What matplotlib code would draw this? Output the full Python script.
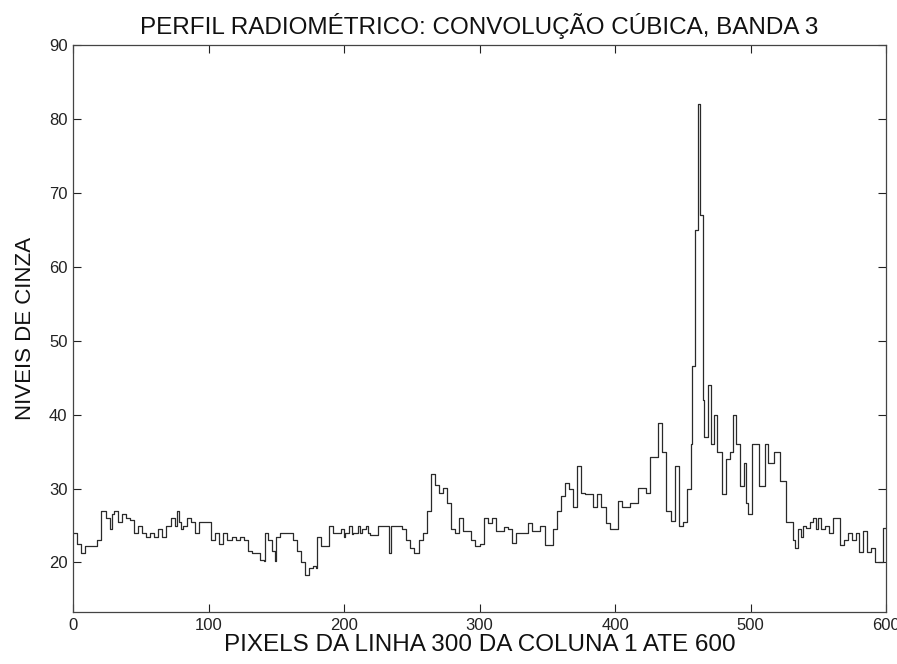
import matplotlib
matplotlib.use("Agg")
import matplotlib.pyplot as plt

# start pixel of each step and its grey level
pixel = [0, 3, 6, 9, 18, 21, 24, 27, 29, 30, 33, 36, 39, 42,
         45, 48, 51, 54, 57, 60, 63, 66, 69, 72, 75, 77, 78, 80, 81, 84, 87, 90,
         93, 96, 99, 102, 105, 108, 111, 114, 117, 120, 123, 126,
         129, 132, 135, 138, 141, 142, 144, 147, 149, 150, 153, 156, 159, 162, 165,
         168, 171, 174, 177, 179, 180, 183, 186, 189, 192, 195, 198, 200, 201, 204,
         206, 207, 210, 212, 213, 216, 218, 219, 222, 225, 228, 231, 233, 234, 235,
         237, 240, 243, 246, 249, 252, 255, 258, 261, 264, 267, 270, 273, 276, 279,
         282, 285, 288, 291, 294, 297, 300, 303, 306, 309, 312, 315, 318, 321, 324,
         327, 330, 333, 336, 339, 342, 345, 348, 351, 354, 357, 360, 363, 366, 369,
         372, 375, 378, 381, 384, 387, 390, 393, 396, 399, 402, 405, 408, 411, 414,
         417, 420, 423, 426, 429, 432, 435, 438, 441, 444, 447, 450, 453, 456, 457,
         459, 461, 463, 465, 466, 469, 471, 473, 475, 479, 482, 485, 487, 489, 492,
         495, 497, 498, 501, 506, 511, 513, 517, 522, 526, 531, 533, 535, 537, 539,
         541, 544, 546, 548, 550, 552, 555, 558, 561, 564, 566, 569, 572, 575, 578,
         580, 583, 586, 589, 592, 597, 598, 600]
level = [24, 22.5, 21.3, 22.2, 23, 27, 26, 24.5, 26.5, 27, 25.5, 26.5, 26, 25.8,
         24, 25, 24, 23.5, 24, 23.5, 24.5, 23.5, 25, 26, 25, 27, 25.5, 24.5, 25, 26, 25.5, 24,
         25.5, 25.5, 25.5, 23, 24, 22.5, 24, 23, 23.5, 23, 23.5, 23,
         21.5, 21.3, 21.3, 20.3, 20.2, 24, 23, 21.5, 20.2, 23.5, 24, 24, 24, 23, 21.5,
         20, 18.3, 19.3, 19.5, 19.3, 23.5, 22.2, 22.2, 25, 24, 24, 24.5, 23.5, 24, 25,
         23.8, 24, 25, 24, 24.5, 25, 24, 23.7, 23.7, 25, 25, 25, 21.3, 21.3, 25,
         25, 25, 24.5, 23, 22, 21.3, 23, 24, 27, 32, 30.5, 29.4, 30.1, 28, 24.5,
         24, 26, 24.2, 24.2, 23, 22.2, 22.5, 26, 25.4, 26, 24.2, 24.2, 24.8, 24.5, 22.7,
         24, 24, 24, 25.4, 24.2, 24.2, 25, 22.4, 22.4, 24.5, 27, 29, 30.8, 30, 27.5,
         33, 29.4, 29.2, 29.2, 27.5, 29.2, 27.5, 25.4, 24.5, 24.5, 28.3, 27.5, 27.5, 28, 28,
         30.1, 30.1, 29.4, 34.2, 34.2, 38.9, 35, 27, 25.6, 33, 25, 25.5, 30, 36, 46.6,
         65, 82, 67, 42, 37, 44, 36, 40, 35, 29.3, 34, 35, 40, 36, 30.3,
         33.5, 28, 26.5, 36, 30.3, 36, 33.5, 35, 31, 25.5, 23, 21.9, 24.5, 23.5, 25,
         24.7, 25.5, 26, 24.5, 26, 24.5, 25, 24, 26, 26, 22.3, 23, 24, 23, 24,
         21.4, 24.2, 21.4, 22, 20, 20, 24.7, 24.7]

x_ticks = [0, 100, 200, 300, 400, 500, 600]
y_ticks = [20, 30, 40, 50, 60, 70, 80, 90]

plt.rcParams['font.family'] = ['Liberation Sans', 'DejaVu Sans']

fig = plt.figure(figsize=(8.97, 6.64), dpi=100)
ax = fig.add_axes([73 / 897, 52 / 664, 813 / 897, 567 / 664])

ax.plot(pixel, level, drawstyle='steps-post', color='#2a2a2a', linewidth=0.9)

ax.set_xlim(0, 600)
ax.set_ylim(13.3, 90)
ax.set_xticks(x_ticks)
ax.set_yticks(y_ticks)
ax.tick_params(direction='in', top=True, right=True, length=6, width=0.8,
               labelsize=12, colors='#222222', pad=4)
for s in ax.spines.values():
    s.set_color('#444444')
    s.set_linewidth(0.9)

ax.set_title('PERFIL RADIOMÉTRICO: CONVOLUÇÃO CÚBICA, BANDA 3', fontsize=17.5, pad=8, color='#111111')
ax.set_xlabel('PIXELS DA LINHA 300 DA COLUNA 1 ATE 600', fontsize=17.5, labelpad=1, color='#111111')
ax.set_ylabel('NIVEIS DE CINZA', fontsize=16, labelpad=9, color='#111111')

fig.savefig('out.png', dpi=100)
